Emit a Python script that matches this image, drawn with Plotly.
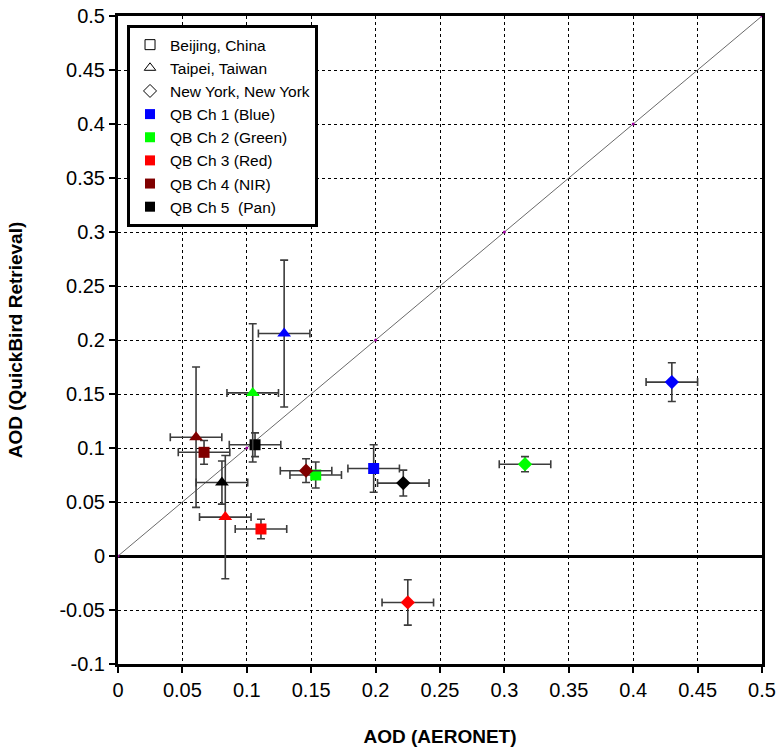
import plotly.graph_objects as go

# ---- data ----
channels = ["QB Ch 1 (Blue)", "QB Ch 2 (Green)", "QB Ch 3 (Red)", "QB Ch 4 (NIR)", "QB Ch 5  (Pan)"]
channel_colors = ["#0000FF", "#00FF00", "#FF0000", "#800000", "#000000"]

sites = ["Beijing, China", "Taipei, Taiwan", "New York, New York"]
site_symbols = ["square", "triangle-up", "diamond"]

# AERONET AOD (x) per site, ordered by channel
beijing_x = [0.1985, 0.1535, 0.111, 0.0668, 0.1064]
taipei_x = [0.129, 0.1046, 0.0833, 0.0606, 0.0807]
newyork_x = [0.430, 0.316, 0.225, 0.146, 0.2215]

# QuickBird retrieved AOD (y)
beijing_y = [0.081, 0.075, 0.025, 0.096, 0.103]
taipei_y = [0.206, 0.151, 0.036, 0.110, 0.068]
newyork_y = [0.161, 0.085, -0.043, 0.079, 0.0675]

# error bars
beijing_xerr = [0.02, 0.02, 0.02, 0.02, 0.02]
taipei_xerr = [0.02, 0.02, 0.02, 0.02, 0.02]
newyork_xerr = [0.02, 0.02, 0.02, 0.02, 0.02]
beijing_yerr = [0.022, 0.012, 0.009, 0.011, 0.011]
taipei_yerr = [0.068, 0.064, 0.057, 0.065, 0.02]
newyork_yerr = [0.018, 0.007, 0.021, 0.011, 0.012]

one_to_one = [0, 0.1, 0.2, 0.3, 0.4, 0.5]

x_ticks = [0, 0.05, 0.1, 0.15, 0.2, 0.25, 0.3, 0.35, 0.4, 0.45, 0.5]
x_ticktext = ["0", "0.05", "0.1", "0.15", "0.2", "0.25", "0.3", "0.35", "0.4", "0.45", "0.5"]
y_ticks = [-0.1, -0.05, 0, 0.05, 0.1, 0.15, 0.2, 0.25, 0.3, 0.35, 0.4, 0.45, 0.5]
y_ticktext = ["-0.1", "-0.05", "0", "0.05", "0.1", "0.15", "0.2", "0.25", "0.3", "0.35", "0.4", "0.45", "0.5"]

site_x = [beijing_x, taipei_x, newyork_x]
site_y = [beijing_y, taipei_y, newyork_y]
site_xerr = [beijing_xerr, taipei_xerr, newyork_xerr]
site_yerr = [beijing_yerr, taipei_yerr, newyork_yerr]
site_sizes = [11, 12, 11]

FONT = "Liberation Sans, Arial, sans-serif"
ERR = "#3c3c3c"

fig = go.Figure()

# 1:1 line
fig.add_trace(go.Scatter(
    x=one_to_one, y=one_to_one, mode="lines+markers",
    line=dict(color="#6a6a6a", width=1),
    marker=dict(color="#a000a0", size=3),
    showlegend=False, hoverinfo="skip"))

# data points
for s in range(len(sites)):
    fig.add_trace(go.Scatter(
        x=site_x[s], y=site_y[s], mode="markers",
        marker=dict(symbol=site_symbols[s], size=site_sizes[s], color=channel_colors,
                    line=dict(width=0)),
        error_x=dict(type="data", array=site_xerr[s], color=ERR, thickness=1.6, width=4),
        error_y=dict(type="data", array=site_yerr[s], color=ERR, thickness=1.6, width=4),
        showlegend=False, name=sites[s]))

# legend entries: sites (open symbols)
for s in range(len(sites)):
    fig.add_trace(go.Scatter(
        x=[None], y=[None], mode="markers", name=sites[s],
        marker=dict(symbol=site_symbols[s] + "-open", size=10, color="black",
                    line=dict(width=1, color="black"))))
# legend entries: channels (filled squares)
for c in range(len(channels)):
    fig.add_trace(go.Scatter(
        x=[None], y=[None], mode="markers", name=channels[c],
        marker=dict(symbol="square", size=10, color=channel_colors[c])))

fig.update_layout(
    width=782, height=755,
    margin=dict(l=118, r=20, t=16, b=91),
    paper_bgcolor="white", plot_bgcolor="white",
    font=dict(family=FONT, color="black"),
    legend=dict(
        x=0.014, y=0.986, xanchor="left", yanchor="top",
        bgcolor="white", bordercolor="black", borderwidth=3,
        font=dict(size=15.5, family=FONT), itemwidth=30,
        tracegroupgap=0),
    showlegend=True,
)

fig.update_xaxes(
    range=[0, 0.5], tickvals=x_ticks, ticktext=x_ticktext, automargin=False,
    ticklabeloverflow="allow",
    showgrid=True, gridcolor="black", griddash="3px,3px", gridwidth=1,
    showline=True, linecolor="black", linewidth=3, mirror=True,
    ticks="outside", ticklen=6, tickwidth=2, tickcolor="black",
    zeroline=False,
    tickfont=dict(size=20, family=FONT),
    title=dict(text="<b>AOD (AERONET)</b>", font=dict(size=19, family=FONT), standoff=30))

fig.update_yaxes(
    range=[-0.1, 0.5], tickvals=y_ticks, ticktext=y_ticktext, automargin=False,
    ticklabeloverflow="allow",
    showgrid=True, gridcolor="black", griddash="3px,3px", gridwidth=1,
    showline=True, linecolor="black", linewidth=3, mirror=True,
    ticks="outside", ticklen=6, tickwidth=2, tickcolor="black",
    zeroline=True, zerolinecolor="black", zerolinewidth=3,
    tickfont=dict(size=20, family=FONT),
    title=dict(text="<b>AOD (QuickBird Retrieval)</b>", font=dict(size=19, family=FONT), standoff=32))

fig.write_html("out.html", config={"displayModeBar": False},
               post_script="document.body.style.margin='0';")
